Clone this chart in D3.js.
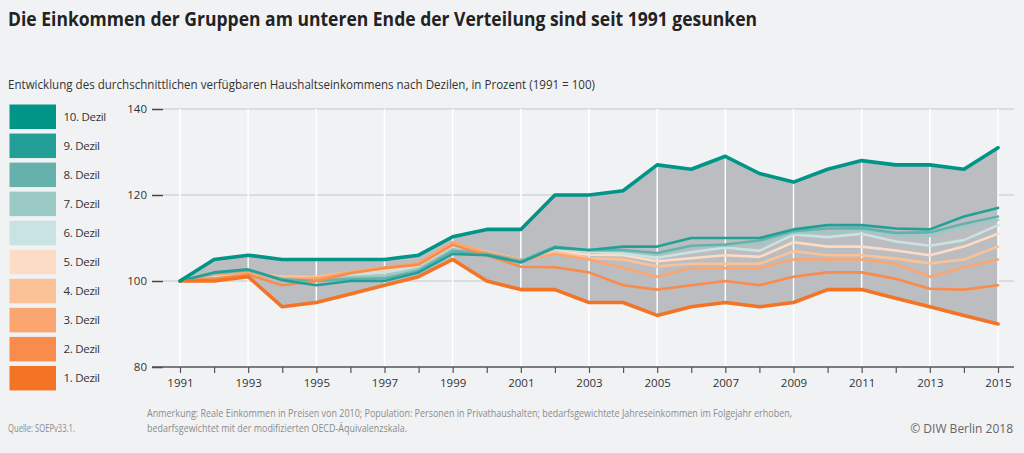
<!DOCTYPE html>
<html><head><meta charset="utf-8">
<script src="https://cdn.jsdelivr.net/npm/d3@7"></script>
<style>
html,body{margin:0;padding:0;background:#f1f2f4;}
svg{display:block;font-family:"Open Sans",sans-serif;}
</style></head>
<body>
<svg id="c" width="1024" height="453"></svg>
<script>
const years = [1991,1992,1993,1994,1995,1996,1997,1998,1999,2000,2001,2002,2003,2004,2005,2006,2007,2008,2009,2010,2011,2012,2013,2014,2015];
const yTicks = [80,100,120,140];
const legendLabels = ["10. Dezil","9. Dezil","8. Dezil","7. Dezil","6. Dezil","5. Dezil","4. Dezil","3. Dezil","2. Dezil","1. Dezil"];
const colors = ["#009587","#22a097","#67b1ad","#9bc9c6","#c9e2e2","#fddcc5","#fcc297","#fba570","#f78c4c","#f47426"];

const d10 = [100,105,106,105,105,105,105,106,110.3,112,112,120,120,121,127,126,129,125,123,126,128,127,127,126,131];
const d9  = [100,102,102.7,100.2,99,100,100,102,106.3,106,104.3,107.8,107.2,108,108,110,110,110,112,113,113,112.2,112,115,117];
const d8  = [100,101.8,102.5,100.4,100,100.5,100.6,102.4,107,106.3,104.6,108,107.2,107.2,106.5,108.2,108.5,109.4,111.6,112.2,112.3,111.2,111.3,113.3,115];
const d7  = [100,101.5,102.3,100.6,100.3,100.9,101.2,102.9,107.4,106.5,105,107.6,107.1,107,106.1,108,108.2,108.6,111.2,111.3,111.8,110.6,110.5,112.5,114.2];
const d6  = [100,101.3,102,100.8,100.6,101.4,102,103.2,108,106.6,105,107.4,106.9,106.4,105.4,106.7,107.8,107,110.8,110.2,111,109.2,108.2,109.5,113];
const d5  = [100,101.2,101.8,101,100.8,101.8,102.6,103.5,108.3,106.7,105,107,106.1,106,104.6,105.3,106,105.6,109,108,108,107.1,106,108,111];
const d4  = [100,101.5,101.9,101,101,102.1,103,104,108.8,106.8,105,106.8,105.3,105,103.4,104,104,104,106.9,106,106,105.2,104.1,105,108];
const d3v = [100,101.6,102,100.4,100.6,102.1,103.2,104.2,109,106.6,104.8,106.3,105,103,101,103,103,103,105,105,105,104,101,103.2,105];
const d2  = [100,100.6,101.5,99,100,101.8,103,103.8,108.4,106,103.3,103.2,102,99,98,99,100,99,101,102,102,100.5,98.2,98,99];
const d1  = [100,100,101,94,95,97,99,101,105,100,98,98,95,95,92,94,95,94,95,98,98,96,94,92,90];

const series = [d10,d9,d8,d7,d6,d5,d4,d3v,d2,d1];

const svg = d3.select("#c");
const x = d3.scaleLinear().domain([1991,2015]).range([180,998]);
const y = d3.scaleLinear().domain([80,140]).range([367,109]);

// Title & subtitle
svg.append("text").attr("x",8).attr("y",26)
  .attr("font-size",19.5).attr("font-weight",700).attr("fill","#222")
  .attr("textLength",749).attr("lengthAdjust","spacingAndGlyphs")
  .text("Die Einkommen der Gruppen am unteren Ende der Verteilung sind seit 1991 gesunken");
svg.append("text").attr("x",8).attr("y",89)
  .attr("font-size",12).attr("fill","#333")
  .attr("textLength",587).attr("lengthAdjust","spacingAndGlyphs")
  .text("Entwicklung des durchschnittlichen verfügbaren Haushaltseinkommens nach Dezilen, in Prozent (1991 = 100)");

// Horizontal gridlines
svg.append("g").selectAll("line").data(yTicks.filter(v=>v>80)).join("line")
  .attr("x1",163).attr("x2",1014).attr("y1",d=>y(d)).attr("y2",d=>y(d))
  .attr("stroke","#d3d4d8").attr("stroke-width",1.5);

// Area between 1st and 10th decile
const area = d3.area().x((d,i)=>x(years[i])).y0((d,i)=>y(d1[i])).y1((d,i)=>y(d10[i]));
svg.append("path").datum(d10).attr("d",area).attr("fill","#bcbdc1");

// Vertical white gridlines (odd years)
svg.append("g").selectAll("line").data(years.filter(v=>v%2===1)).join("line")
  .attr("x1",d=>x(d)).attr("x2",d=>x(d)).attr("y1",y(140)).attr("y2",y(80))
  .attr("stroke","#ffffff").attr("stroke-width",1.5);

// Y axis ticks/labels
const yAxis = d3.axisLeft(y).tickValues(yTicks).tickSize(11).tickPadding(5);
const gy = svg.append("g").attr("transform","translate(163,0)").call(yAxis);
gy.select(".domain").remove();
gy.selectAll(".tick line").attr("stroke","#444").attr("stroke-width",1.5);
gy.selectAll(".tick text").attr("font-size",11.5).attr("fill","#333").attr("font-family","Open Sans");

// X axis
const xAxis = d3.axisBottom(x).tickValues(years).tickSize(6).tickPadding(6)
  .tickFormat(d=> d%2===1 ? String(d) : "");
const gx = svg.append("g").attr("transform",`translate(0,${y(80)})`).call(xAxis);
gx.select(".domain").remove();
gx.selectAll(".tick line").attr("stroke","#555").attr("stroke-width",1.2);
gx.selectAll(".tick text").attr("font-size",11.5).attr("fill","#333").attr("font-family","Open Sans");
svg.append("line").attr("x1",152).attr("x2",1014).attr("y1",y(80)).attr("y2",y(80))
  .attr("stroke","#555").attr("stroke-width",1.5);

// Lines
const line = d3.line().x((d,i)=>x(years[i])).y(d=>y(d));
const order = [5,4,6,3,7,2,8,1,9,0];
svg.append("g").selectAll("path").data(order).join("path")
  .attr("d",k=>line(series[k]))
  .attr("fill","none")
  .attr("stroke",k=>colors[k])
  .attr("stroke-width",k=>(k===0||k===9)?3.6:2.6)
  .attr("stroke-linejoin","round").attr("stroke-linecap","round");

// Legend
const lg = svg.append("g").selectAll("g").data(legendLabels).join("g")
  .attr("transform",(d,i)=>`translate(9.5,${104.5 + i*29.05})`);
lg.append("rect").attr("width",46.5).attr("height",24.5).attr("fill",(d,i)=>colors[i]);
lg.append("text").attr("x",54).attr("y",16.5).attr("font-size",11.5).attr("fill","#333")
  .attr("letter-spacing",-0.3).text(d=>d);

// Footer
svg.append("text").attr("x",8).attr("y",432).attr("font-size",10.5).attr("fill","#8c8c8c")
  .attr("textLength",67).attr("lengthAdjust","spacingAndGlyphs").text("Quelle: SOEPv33.1.");
svg.append("text").attr("x",147).attr("y",417).attr("font-size",10).attr("fill","#8c8c8c")
  .attr("textLength",645).attr("lengthAdjust","spacingAndGlyphs")
  .text("Anmerkung: Reale Einkommen in Preisen von 2010; Population: Personen in Privathaushalten; bedarfsgewichtete Jahreseinkommen im Folgejahr erhoben,");
svg.append("text").attr("x",147).attr("y",432).attr("font-size",10).attr("fill","#8c8c8c")
  .attr("textLength",260).attr("lengthAdjust","spacingAndGlyphs")
  .text("bedarfsgewichtet mit der modifizierten OECD-Äquivalenzskala.");
svg.append("text").attr("x",1013).attr("y",433).attr("text-anchor","end")
  .attr("font-size",12).attr("fill","#666").text("© DIW Berlin 2018");
</script>
</body></html>
